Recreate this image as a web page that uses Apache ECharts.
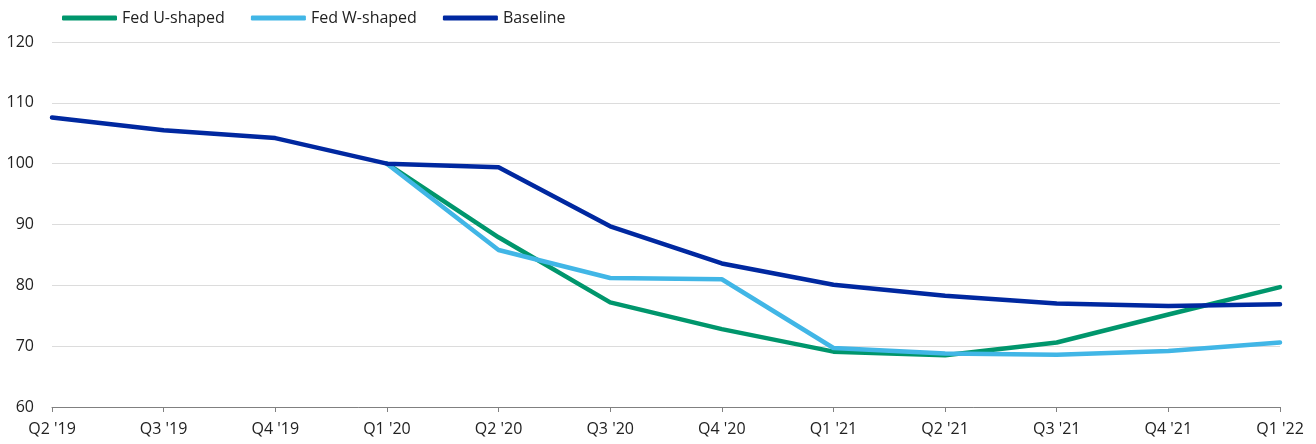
<!DOCTYPE html>
<html>
<head>
<meta charset="utf-8">
<script src="https://cdn.jsdelivr.net/npm/echarts@6/dist/echarts.min.js"></script>
<style>
  html, body { margin: 0; padding: 0; background: #fff; }
  #chart { width: 1316px; height: 444px; }
</style>
</head>
<body>
<div id="chart"></div>
<script>
const quarters = ["Q2 '19", "Q3 '19", "Q4 '19", "Q1 '20", "Q2 '20", "Q3 '20", "Q4 '20", "Q1 '21", "Q2 '21", "Q3 '21", "Q4 '21", "Q1 '22"];
const fedU = [null, null, null, 100, 87.9, 77.2, 72.8, 69.1, 68.5, 70.6, 75.2, 79.7];
const fedW = [null, null, null, 100, 85.8, 81.2, 81.0, 69.7, 68.8, 68.6, 69.2, 70.6];
const baseline = [107.6, 105.5, 104.2, 100, 99.4, 89.7, 83.6, 80.1, 78.3, 77.0, 76.6, 76.9];

const font = "'Open Sans', 'Noto Sans', sans-serif";
const textColor = '#222';
const chart = echarts.init(document.getElementById('chart'));

function line(name, data, color) {
  return {
    name, type: 'line', data, color,
    symbol: 'none', smooth: false, connectNulls: false,
    lineStyle: { width: 4.5, color, cap: 'round', join: 'round' }
  };
}

chart.setOption({
  animation: false,
  textStyle: { fontFamily: font },
  legend: {
    left: 62, top: 10, padding: 0, itemWidth: 55, itemHeight: 5, itemGap: 26,
    icon: 'roundRect',
    textStyle: { fontSize: 16, color: textColor, fontFamily: font },
    data: ['Fed U-shaped', 'Fed W-shaped', 'Baseline']
  },
  grid: { left: 52, right: 36, top: 42, bottom: 37, containLabel: false },
  xAxis: {
    type: 'category', data: quarters, boundaryGap: false,
    axisLine: { lineStyle: { color: '#808080', width: 1 } },
    axisTick: { show: true, length: 5, lineStyle: { color: '#808080' } },
    axisLabel: { fontSize: 16, color: textColor, margin: 14, fontFamily: font, interval: 0 },
    splitLine: { show: false }
  },
  yAxis: {
    type: 'value', min: 60, max: 120, interval: 10,
    axisLine: { show: false }, axisTick: { show: false },
    axisLabel: { fontSize: 16, color: textColor, margin: 18, fontFamily: font },
    splitLine: { lineStyle: { color: '#dcdcdc', width: 1 } }
  },
  series: [
    line('Fed U-shaped', fedU, '#00966c'),
    line('Fed W-shaped', fedW, '#41b6e6'),
    line('Baseline', baseline, '#0028a0')
  ]
});
</script>
</body>
</html>
